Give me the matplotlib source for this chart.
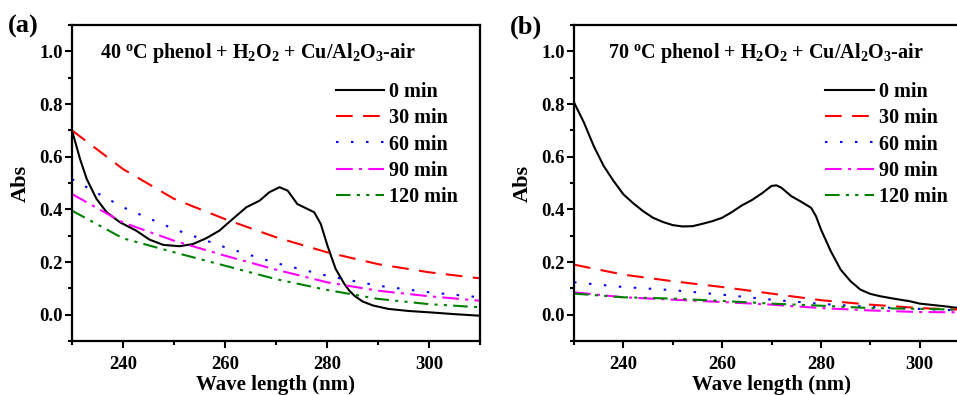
import matplotlib
matplotlib.use("Agg")
import matplotlib.pyplot as plt
from matplotlib.ticker import MultipleLocator

plt.rcParams['font.family'] = ['Liberation Serif', 'DejaVu Serif']
plt.rcParams['font.weight'] = 'bold'
plt.rcParams['mathtext.fontset'] = 'custom'
plt.rcParams['mathtext.rm'] = 'Liberation Serif:bold'
plt.rcParams['mathtext.it'] = 'Liberation Serif:bold'
plt.rcParams['mathtext.default'] = 'rm'

# ---- data ----
labels = ["0 min", "30 min", "60 min", "90 min", "120 min"]

# panel (a), 40 C
wl_a0 = [230, 231.6, 232.9, 234.8, 236.8, 239.4, 242.6, 245.2, 247.9, 251.1, 253.7, 256.3,
         258.9, 261.5, 264.2, 266.8, 268.7, 270.7, 272.3, 274.2, 275.9, 277.5, 278.8, 280.1,
         281.7, 283.4, 284.4, 285.5, 287, 289, 292, 296, 300, 305, 310]
abs_a0 = [0.70, 0.59, 0.515, 0.44, 0.389, 0.351, 0.319, 0.285, 0.265, 0.26, 0.268, 0.29,
          0.319, 0.363, 0.408, 0.433, 0.465, 0.484, 0.471, 0.42, 0.404, 0.389, 0.344, 0.262,
          0.174, 0.117, 0.091, 0.07, 0.05, 0.035, 0.022, 0.014, 0.009, 0.002, -0.004]
wl_a = [230, 240, 250, 260, 270, 280, 290, 300, 310]
abs_a30 = [0.70, 0.553, 0.44, 0.363, 0.294, 0.237, 0.192, 0.161, 0.138]
abs_a60 = [0.515, 0.408, 0.325, 0.256, 0.196, 0.148, 0.11, 0.085, 0.066]
abs_a90 = [0.458, 0.35, 0.281, 0.224, 0.171, 0.123, 0.091, 0.07, 0.053]
abs_a120 = [0.395, 0.29, 0.237, 0.186, 0.135, 0.094, 0.06, 0.04, 0.028]

# panel (b), 70 C
wl_b0 = [230, 232, 234, 236, 238, 240, 242, 244, 246, 248, 250, 252, 254, 256, 258, 260, 262,
         264, 266, 268, 270, 271, 272, 274, 276, 278, 279, 280, 282, 284, 286, 288, 290, 292,
         295, 298, 300, 305, 308]
abs_b0 = [0.806, 0.73, 0.64, 0.565, 0.508, 0.457, 0.423, 0.393, 0.368, 0.352, 0.34, 0.335, 0.336,
          0.345, 0.355, 0.368, 0.39, 0.415, 0.435, 0.46, 0.489, 0.491, 0.482, 0.45, 0.429, 0.406,
          0.374, 0.324, 0.241, 0.171, 0.127, 0.095, 0.079, 0.07, 0.06, 0.051, 0.042, 0.032, 0.025]
wl_b = [230, 240, 250, 260, 270, 280, 290, 300, 308]
abs_b30 = [0.19, 0.152, 0.127, 0.105, 0.08, 0.055, 0.038, 0.025, 0.019]
abs_b60 = [0.123, 0.105, 0.093, 0.076, 0.057, 0.041, 0.029, 0.022, 0.016]
abs_b90 = [0.085, 0.066, 0.057, 0.048, 0.038, 0.025, 0.016, 0.01, 0.009]
abs_b120 = [0.08, 0.066, 0.061, 0.052, 0.042, 0.034, 0.025, 0.022, 0.019]

colors = ["black", "#ff0000", "#0000ff", "#ff00ff", "#008000"]
dashes = [None, (8, 5), (1.2, 6), (8, 3, 1.5, 3), (7, 3, 1.5, 3, 1.5, 3)]


def draw_panel(ax, x0, y0, x, ys, title, title_x):
    series = [(x0, y0)] + [(x, y) for y in ys]
    for (xx, yy), lab, c, d in zip(series, labels, colors, dashes):
        line, = ax.plot(xx, yy, color=c, lw=1.5, label=lab)
        if d is not None:
            line.set_dashes(d)
    ax.set_xlim(230, 310)
    ax.set_ylim(-0.1, 1.1)
    ax.xaxis.set_major_locator(MultipleLocator(20))
    ax.xaxis.set_minor_locator(MultipleLocator(10))
    ax.yaxis.set_major_locator(MultipleLocator(0.2))
    ax.yaxis.set_minor_locator(MultipleLocator(0.1))
    ax.tick_params(which='major', direction='out', length=5, width=1.5, labelsize=13.5)
    ax.tick_params(which='minor', direction='out', length=3, width=1.5)
    ax.tick_params(axis='x', which='major', pad=6)
    ax.tick_params(axis='y', which='major', pad=1.5)
    for s in ax.spines.values():
        s.set_linewidth(1.6)
    ax.set_xlabel("Wave length (nm)", fontsize=15, fontweight='bold', labelpad=1.5)
    ax.set_ylabel("Abs", fontsize=16, fontweight='bold', labelpad=6)
    ax.text(title_x, 0.912, title, transform=ax.transAxes, fontsize=14.5, va='center', ha='left')
    ax.legend(loc='upper right', bbox_to_anchor=(0.966, 0.845), frameon=False, fontsize=14.5,
              handlelength=2.4, handletextpad=0.25, labelspacing=0.31, borderaxespad=0)


fig = plt.figure(figsize=(9.57, 3.95), dpi=100)
ax_a = fig.add_axes([0.0752, 0.1367, 0.4263, 0.80])
ax_b = fig.add_axes([0.5998, 0.1367, 0.4128, 0.80])

draw_panel(ax_a, wl_a0, abs_a0, wl_a, [abs_a30, abs_a60, abs_a90, abs_a120],
           r"40 $^{o}$C phenol + H$_{2}$O$_{2}$ + Cu/Al$_{2}$O$_{3}$-air", 0.069)
draw_panel(ax_b, wl_b0, abs_b0, wl_b, [abs_b30, abs_b60, abs_b90, abs_b120],
           r"70 $^{o}$C phenol + H$_{2}$O$_{2}$ + Cu/Al$_{2}$O$_{3}$-air", 0.086)

fig.text(0.008, 0.932, "(a)", fontsize=19, fontweight='bold', va='center')
fig.text(0.533, 0.932, "(b)", fontsize=19, fontweight='bold', va='center')

fig.savefig("out.png", dpi=100)
